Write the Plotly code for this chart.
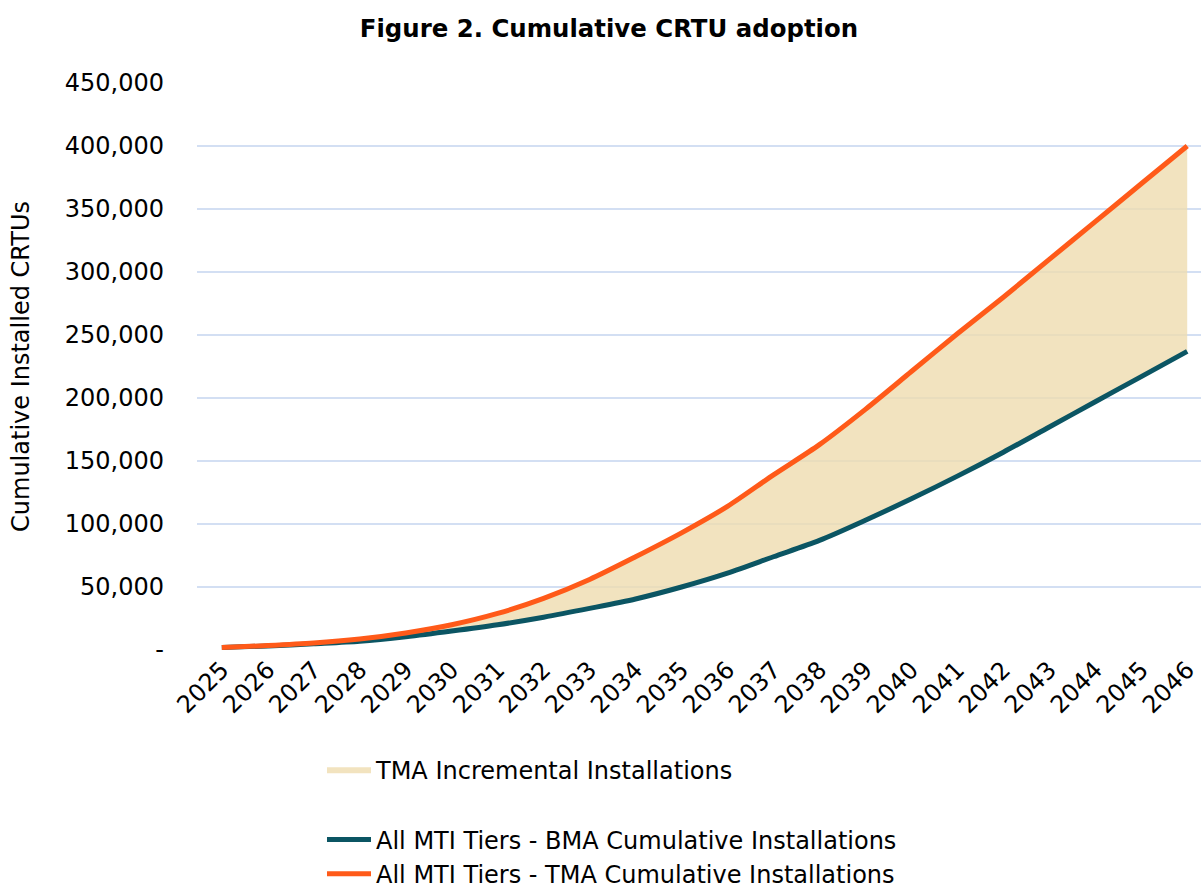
import plotly.graph_objects as go

years = [str(y) for y in range(2025, 2047)]
bma = [2000, 3200, 5000, 7000, 10500, 15000, 20000, 26000, 33000, 40500, 50000,
       61000, 74000, 87000, 103000, 120000, 138000, 157000, 177000, 197000, 217000, 237000]
tma = [2000, 3500, 5500, 8700, 13500, 20000, 29000, 41000, 56000, 74000, 93000,
       114000, 139000, 163000, 191000, 221000, 251000, 280000, 310000, 340000, 370000, 400000]
ytick_vals = [0, 50000, 100000, 150000, 200000, 250000, 300000, 350000, 400000, 450000]
ytick_text = ["-", "50,000", "100,000", "150,000", "200,000", "250,000",
              "300,000", "350,000", "400,000", "450,000"]

xi = list(range(len(years)))
FONT = "'DejaVu Sans', 'Open Sans', sans-serif"
SPL = dict(shape="spline", smoothing=0.8)

fig = go.Figure()
fig.add_trace(go.Scatter(x=xi, y=bma, mode="lines", line=dict(width=0, **SPL),
                         showlegend=False, hoverinfo="skip"))
fig.add_trace(go.Scatter(x=xi, y=tma, mode="lines", line=dict(width=0, **SPL),
                         fill="tonexty", fillcolor="rgba(239,220,175,0.8)",
                         name="TMA Incremental Installations",
                         legendgroup="a"))
fig.add_trace(go.Scatter(x=xi, y=bma, mode="lines",
                         line=dict(color="#0B5563", width=5, **SPL),
                         name="All MTI Tiers - BMA Cumulative Installations",
                         legendgroup="b"))
fig.add_trace(go.Scatter(x=xi, y=tma, mode="lines",
                         line=dict(color="#FF5A19", width=5, **SPL),
                         name="All MTI Tiers - TMA Cumulative Installations",
                         legendgroup="b"))

fig.update_layout(
    width=1201, height=888,
    margin=dict(l=197, r=0, t=83, b=238, autoexpand=False),
    paper_bgcolor="white", plot_bgcolor="white",
    font=dict(family=FONT, size=24, color="#1a1a1a"),
    title=dict(text="<b>Figure 2. Cumulative CRTU adoption</b>", x=0.507, xanchor="center",
               y=0.9685, yanchor="middle", font=dict(size=24.4, color="#000")),
    showlegend=True,
    legend=dict(x=0.1245, xanchor="left", y=-0.1715, yanchor="top",
                traceorder="grouped", tracegroupgap=36, itemwidth=44,
                font=dict(size=24, color="#000"), bgcolor="rgba(0,0,0,0)"),
    xaxis=dict(range=[-0.54, 21.3], tickvals=xi, ticktext=years, tickangle=-45,
               showgrid=False, zeroline=False, showline=False,
               ticklabeloverflow="allow",
               tickfont=dict(size=24, color="#000")),
    yaxis=dict(range=[0, 450000], tickvals=ytick_vals, ticktext=ytick_text,
               showgrid=True, gridcolor="#D3DFF3", gridwidth=2, zeroline=False,
               ticklabelstandoff=32, tickfont=dict(size=24, color="#000"),
               title=dict(text="Cumulative Installed CRTUs", standoff=28,
                          font=dict(size=24, color="#000"))),
)

fig.write_html("out.html", config={"displayModeBar": False},
               post_script="document.body.style.margin='0';document.body.style.overflow='hidden';")
